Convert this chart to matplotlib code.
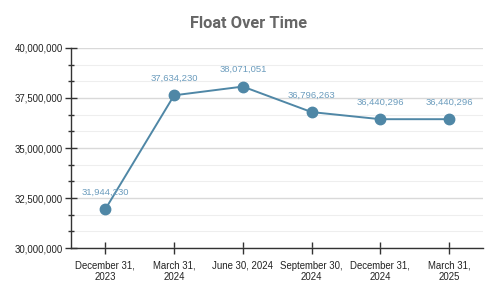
import matplotlib.pyplot as plt
from matplotlib.ticker import MultipleLocator, FuncFormatter

dates = ['December 31,\n2023', 'March 31,\n2024', 'June 30, 2024',
         'September 30,\n2024', 'December 31,\n2024', 'March 31,\n2025']
float_values = [31944230, 37634230, 38071051, 36796263, 36440296, 36440296]

line_color = '#4f87a6'
label_color = '#6b9cbd'

plt.rcParams['font.family'] = ['Liberation Sans', 'DejaVu Sans']

fig = plt.figure(figsize=(4.98, 2.95), dpi=100)
ax = fig.add_axes([0.1426, 0.1593, 0.828, 0.678])

x = list(range(len(dates)))
ax.plot(x, float_values, color=line_color, lw=1.4, marker='o', markersize=7.5, zorder=3)

for xi, v in zip(x, float_values):
    ax.annotate(f'{v:,}', (xi, v), xytext=(0, 9), textcoords='offset points',
                ha='center', va='bottom', fontsize=6.8, color=label_color, zorder=4)

ax.set_xlim(-0.5, 5.5)
ax.set_ylim(30000000, 40000000)
ax.yaxis.set_major_locator(MultipleLocator(2500000))
ax.yaxis.set_minor_locator(MultipleLocator(2500000 / 3))
ax.yaxis.set_major_formatter(FuncFormatter(lambda v, p: f'{int(v):,}'))
ax.set_xticks(x)
ax.set_xticklabels(dates, fontsize=6.9, color='#222222')

ax.grid(axis='y', which='major', color='#d9d9d9', lw=1.0, zorder=0)
ax.grid(axis='y', which='minor', color='#eeeeee', lw=0.8, zorder=0)
ax.set_axisbelow(True)

for s in ['top', 'right']:
    ax.spines[s].set_visible(False)
for s in ['left', 'bottom']:
    ax.spines[s].set_color('#333333')
    ax.spines[s].set_linewidth(1.0)

ax.tick_params(axis='y', which='major', direction='inout', length=8, width=1,
               color='#333333', labelsize=6.9, labelcolor='#222222', pad=2)
ax.tick_params(axis='y', which='minor', direction='inout', length=5, width=1, color='#333333')
ax.tick_params(axis='x', direction='inout', length=8, width=1, color='#333333', pad=5)

fig.text(0.5, 0.92, 'Float Over Time', ha='center', va='center', fontsize=11.8,
         fontweight='bold', color='#666666', family=['Roboto', 'DejaVu Sans'])

plt.savefig('out.png', dpi=100)
plt.close()
